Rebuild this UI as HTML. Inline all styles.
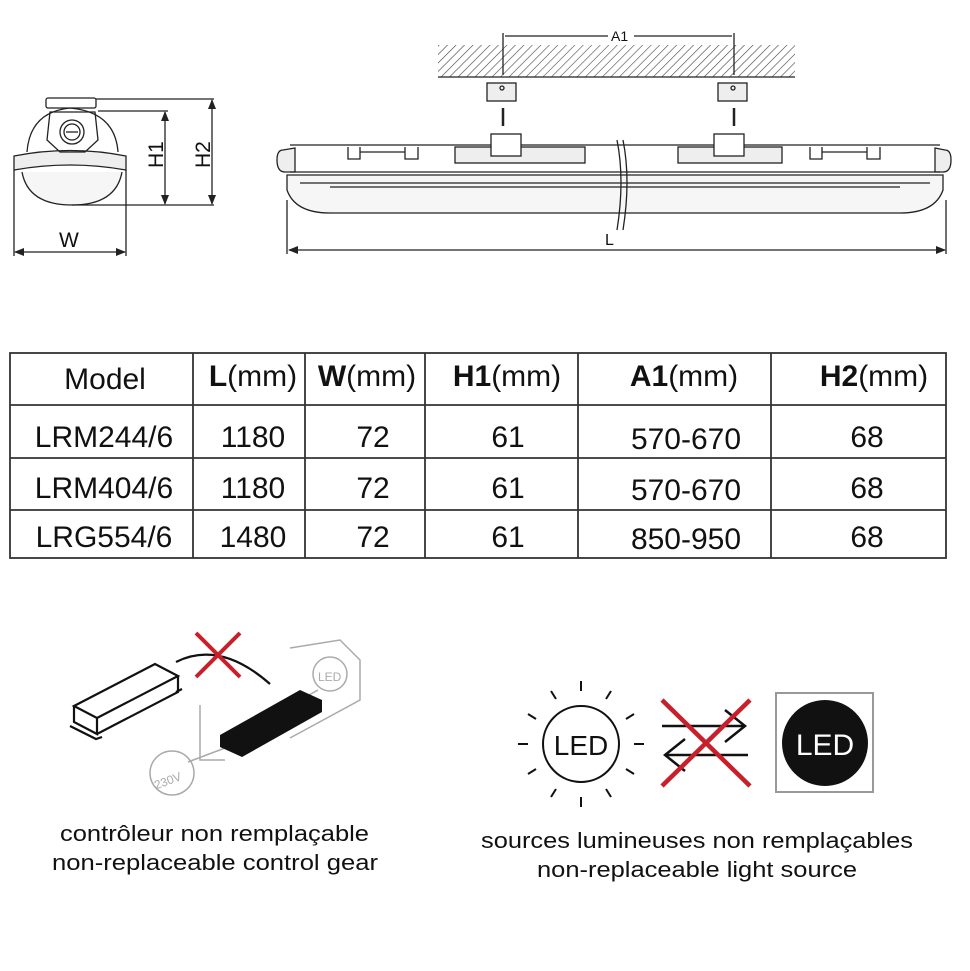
<!DOCTYPE html>
<html><head><meta charset="utf-8"><style>
body{margin:0;background:#fff;}
svg{display:block;font-family:"Liberation Sans",Arial,sans-serif;}
</style></head><body>
<svg width="970" height="971" viewBox="0 0 970 971" xmlns="http://www.w3.org/2000/svg">
<defs>
<pattern id="h" width="6" height="6" patternUnits="userSpaceOnUse" patternTransform="rotate(45)">
<line x1="0" y1="0" x2="0" y2="6" stroke="#444" stroke-width="1.2"/></pattern>
<marker id="a" markerWidth="10" markerHeight="8" refX="9" refY="4" orient="auto-start-reverse" markerUnits="userSpaceOnUse"><path d="M0,0 L10,4 L0,8 z" fill="#222"/></marker>
</defs>
<g stroke="#222" fill="none" stroke-width="1.3">
<!-- side view -->
<rect x="46" y="98" width="50" height="10" rx="2"/>
<path d="M27,152 Q30,112 70,108 Q115,112 118,152"/>
<path d="M14,156 Q70,145 126,156 L126,170 Q70,160 14,170 Z" fill="#eee"/>
<path d="M22,172 Q28,205 72,205 Q116,205 122,172" fill="#f6f6f6"/>
<path d="M50,112 L95,112 L98,140 L85,152 L60,152 L47,140 Z"/>
<circle cx="72" cy="132" r="12"/><circle cx="72" cy="132" r="8"/>
<line x1="66" y1="132" x2="78" y2="132"/>
<line x1="96" y1="99" x2="214" y2="99"/>
<line x1="98" y1="111" x2="168" y2="111"/>
<line x1="72" y1="205" x2="214" y2="205"/>
<line x1="165" y1="112" x2="165" y2="204" marker-start="url(#a)" marker-end="url(#a)"/>
<line x1="212" y1="100" x2="212" y2="204" marker-start="url(#a)" marker-end="url(#a)"/>
<line x1="14" y1="170" x2="14" y2="256"/><line x1="126" y1="170" x2="126" y2="256"/>
<line x1="15" y1="252" x2="125" y2="252" marker-start="url(#a)" marker-end="url(#a)"/>
<!-- ceiling -->
<rect x="438" y="45" width="357" height="32" fill="url(#h)" stroke="none"/>
<line x1="438" y1="77" x2="795" y2="77"/>
<line x1="503" y1="33" x2="503" y2="75"/><line x1="734" y1="33" x2="734" y2="75"/>
<line x1="505" y1="36" x2="608" y2="36"/><line x1="634" y1="36" x2="732" y2="36"/>
<rect x="487" y="83" width="29" height="18" fill="#eee"/><rect x="718" y="83" width="29" height="18" fill="#eee"/>
<circle cx="502" cy="88" r="2"/><circle cx="733" cy="88" r="2"/>
<line x1="503" y1="108" x2="503" y2="126" stroke-width="2.5"/><line x1="734" y1="108" x2="734" y2="126" stroke-width="2.5"/>
<!-- lamp body -->
<path d="M290,145 L940,145"/>
<path d="M283,150 Q277,150 277,160 Q277,172 285,172 L295,172 L295,148 Z" fill="#eee"/>
<path d="M945,150 Q951,150 951,160 Q951,172 943,172 L935,172 L935,148 Z" fill="#eee"/>
<line x1="290" y1="172" x2="940" y2="172"/>
<path d="M287,175 L943,175 L943,190 Q935,213 900,213 L330,213 Q295,213 287,190 Z" fill="#f6f6f6"/>
<line x1="300" y1="183" x2="930" y2="183"/>
<line x1="330" y1="187" x2="900" y2="187"/>
<rect x="455" y="147" width="130" height="16" fill="#eee"/><rect x="678" y="147" width="104" height="16" fill="#eee"/>
<rect x="491" y="134" width="30" height="22" fill="#fff"/><rect x="714" y="134" width="30" height="22" fill="#fff"/>
<path d="M348,147 v12 h12 v-12 M360,152 h45 M405,147 v12 h13 v-12"/>
<path d="M810,147 v12 h12 v-12 M822,152 h45 M867,147 v12 h13 v-12"/>
<path d="M617,140 Q625,180 617,230" /><path d="M623,140 Q631,180 623,230"/>
<line x1="287" y1="200" x2="287" y2="254"/><line x1="946" y1="200" x2="946" y2="254"/>
<line x1="289" y1="250" x2="945" y2="250" marker-start="url(#a)" marker-end="url(#a)"/>
</g>
<g fill="#111" font-size="21">
<text x="59" y="247">W</text>
<text transform="translate(163,168) rotate(-90)">H1</text>
<text transform="translate(210,168) rotate(-90)">H2</text>
<text x="611" y="41" font-size="14">A1</text>
<text x="605" y="245" font-size="16">L</text>
</g>
<!-- table -->
<g stroke="#333" stroke-width="1.8" fill="none">
<rect x="10" y="353" width="936" height="205"/>
<line x1="10" y1="405" x2="946" y2="405"/><line x1="10" y1="458" x2="946" y2="458"/><line x1="10" y1="510" x2="946" y2="510"/>
<line x1="193" y1="353" x2="193" y2="558"/><line x1="305" y1="353" x2="305" y2="558"/><line x1="425" y1="353" x2="425" y2="558"/><line x1="578" y1="353" x2="578" y2="558"/><line x1="771" y1="353" x2="771" y2="558"/>
</g>
<g fill="#111" font-size="30" text-anchor="middle">
<text x="105" y="389">Model</text>
<text x="253" y="386"><tspan font-weight="bold">L</tspan>(mm)</text>
<text x="367" y="386"><tspan font-weight="bold">W</tspan>(mm)</text>
<text x="507" y="386"><tspan font-weight="bold">H1</tspan>(mm)</text>
<text x="684" y="386"><tspan font-weight="bold">A1</tspan>(mm)</text>
<text x="874" y="386"><tspan font-weight="bold">H2</tspan>(mm)</text>
<text x="104" y="447">LRM244/6</text><text x="253" y="447">1180</text><text x="373" y="447">72</text><text x="508" y="447">61</text><text x="686" y="449">570-670</text><text x="867" y="447">68</text>
<text x="104" y="498">LRM404/6</text><text x="253" y="498">1180</text><text x="373" y="498">72</text><text x="508" y="498">61</text><text x="686" y="500">570-670</text><text x="867" y="498">68</text>
<text x="104" y="547">LRG554/6</text><text x="253" y="547">1480</text><text x="373" y="547">72</text><text x="508" y="547">61</text><text x="686" y="549">850-950</text><text x="867" y="547">68</text>
</g>
<!-- control gear icon -->
<g fill="none" stroke="#aaa" stroke-width="1.5">
<path d="M200,705 L200,760 L225,760 M290,738 L360,700 L360,660 L340,640 L290,648"/>
<circle cx="172" cy="773" r="22"/><circle cx="330" cy="674" r="17"/>
<line x1="188" y1="762" x2="225" y2="748"/><line x1="318" y1="690" x2="300" y2="700"/>
</g>
<text x="152" y="783" font-size="12" fill="#aaa" transform="rotate(-20 172 775)">230V</text>
<text x="318" y="681" font-size="12" fill="#aaa">LED</text>
<g stroke="#111" stroke-width="2.2" fill="none">
<path d="M74,706 L155,664 L178,676 L97,718 Z M74,706 L74,722 L97,734 L97,718 M97,734 L178,692 L178,676"/>
<path d="M70,726 L96,739 L102,737 M176,692 L182,689"/>
<path d="M176,662 Q220,640 270,684"/>
</g>
<path d="M220,735 L300,690 L322,700 L322,712 L242,757 L220,747 Z" fill="#111"/>
<g stroke="#c8202b" stroke-width="4"><line x1="196" y1="633" x2="240" y2="677"/><line x1="240" y1="633" x2="196" y2="677"/></g>
<g font-size="22" fill="#111">
<text x="60" y="841" textLength="309" lengthAdjust="spacingAndGlyphs">contrôleur non remplaçable</text>
<text x="52" y="870" textLength="326" lengthAdjust="spacingAndGlyphs">non-replaceable control gear</text>
</g>
<!-- LED icons -->
<circle cx="581" cy="744" r="38" fill="none" stroke="#111" stroke-width="2"/>
<text x="581" y="755" font-size="28" text-anchor="middle" fill="#111">LED</text>
<g stroke="#111" stroke-width="2">
<line x1="581" y1="681" x2="581" y2="691"/><line x1="581" y1="797" x2="581" y2="807"/>
<line x1="518" y1="744" x2="528" y2="744"/><line x1="634" y1="744" x2="644" y2="744"/>
<line x1="551" y1="691" x2="556" y2="699"/><line x1="611" y1="691" x2="606" y2="699"/>
<line x1="551" y1="797" x2="556" y2="789"/><line x1="611" y1="797" x2="606" y2="789"/>
<line x1="528" y1="714" x2="536" y2="719"/><line x1="634" y1="714" x2="626" y2="719"/>
<line x1="528" y1="774" x2="536" y2="769"/><line x1="634" y1="774" x2="626" y2="769"/>
</g>
<g stroke="#111" stroke-width="2.5" fill="none">
<line x1="662" y1="726" x2="745" y2="726"/><path d="M725,710 L745,726 L725,742"/>
<line x1="665" y1="755" x2="748" y2="755"/><path d="M685,739 L665,755 L685,771"/>
</g>
<g stroke="#c8202b" stroke-width="4.5"><line x1="662" y1="700" x2="750" y2="786"/><line x1="750" y1="700" x2="662" y2="786"/></g>
<rect x="776" y="693" width="97" height="99" fill="none" stroke="#999" stroke-width="2"/>
<circle cx="825" cy="743" r="43" fill="#111"/>
<text x="825" y="755" font-size="30" text-anchor="middle" fill="#fff">LED</text>
<g font-size="22" fill="#111">
<text x="481" y="848" textLength="432" lengthAdjust="spacingAndGlyphs">sources lumineuses non remplaçables</text>
<text x="537" y="877" textLength="320" lengthAdjust="spacingAndGlyphs">non-replaceable light source</text>
</g>
</svg>
</body></html>
